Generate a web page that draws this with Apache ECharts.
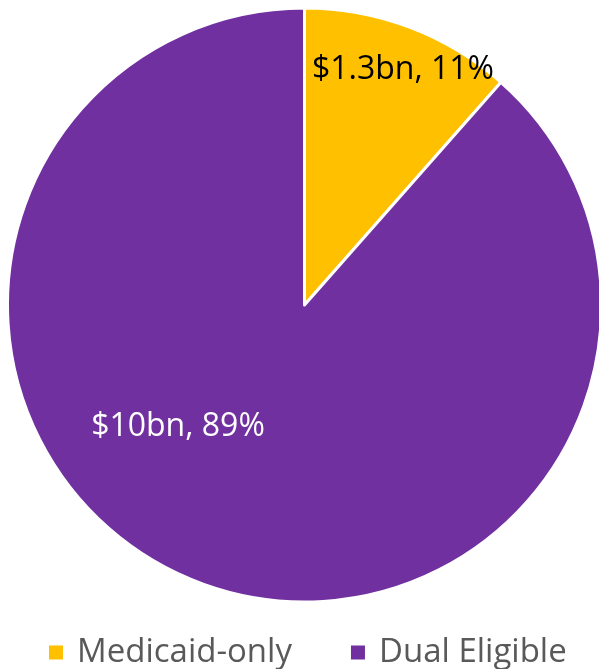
<!DOCTYPE html>
<html>
<head>
<meta charset="utf-8">
<script src="https://cdn.jsdelivr.net/npm/echarts@6/dist/echarts.min.js"></script>
<style>
  html, body { margin: 0; padding: 0; background: #ffffff; }
  #chart { width: 599px; height: 669px; }
</style>
</head>
<body>
<div id="chart"></div>
<script>
// Spending split by beneficiary group, in billions of dollars
const categories = ['Medicaid-only', 'Dual Eligible'];
const spendingBn = [1.3, 10];
const sliceLabels = ['$1.3bn, 11%', '$10bn, 89%'];
const sliceColors = ['#FFC000', '#7030A0'];
const labelColors = ['#000000', '#ffffff'];

// Label anchor points inside each slice (pixels)
const labelAnchors = [[403, 70], [178, 427]];

const FONT = '"Open Sans", sans-serif';

const chart = echarts.init(document.getElementById('chart'), null, { renderer: 'canvas' });

chart.setOption({
  animation: false,
  backgroundColor: '#ffffff',
  legend: {
    data: categories,
    left: 42,
    top: 631,
    icon: 'rect',
    itemWidth: 16,
    itemHeight: 16,
    itemGap: 57,
    selectedMode: false,
    textStyle: {
      fontFamily: FONT,
      fontSize: 33,
      color: '#595959',
      padding: [0, 0, 0, 8]
    }
  },
  series: [{
    type: 'pie',
    center: [304.5, 305],
    radius: 297,
    startAngle: 90,
    clockwise: true,
    silent: true,
    itemStyle: { borderColor: '#ffffff', borderWidth: 3 },
    label: {
      show: true,
      position: 'inside',
      fontFamily: FONT,
      fontSize: 32,
      formatter: p => sliceLabels[p.dataIndex]
    },
    labelLine: { show: false },
    labelLayout: p => ({
      x: labelAnchors[p.dataIndex][0],
      y: labelAnchors[p.dataIndex][1],
      align: 'center',
      verticalAlign: 'middle'
    }),
    data: categories.map((name, i) => ({
      name,
      value: spendingBn[i],
      itemStyle: { color: sliceColors[i] },
      label: { color: labelColors[i] }
    }))
  }]
});
</script>
</body>
</html>
